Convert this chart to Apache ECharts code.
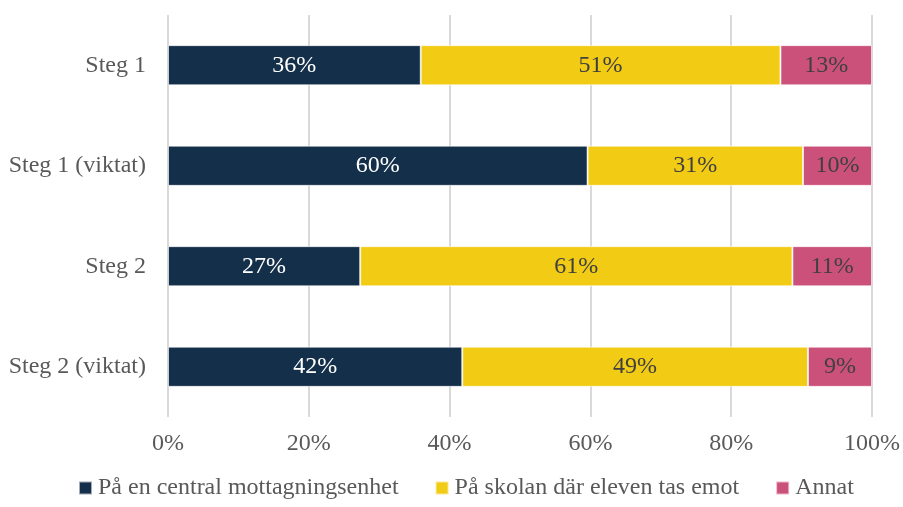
<!DOCTYPE html>
<html>
<head>
<meta charset="utf-8">
<script src="https://cdn.jsdelivr.net/npm/echarts@6/dist/echarts.min.js"></script>
<style>
html,body{margin:0;padding:0;background:#fff;}
#c{width:903px;height:507px;}
</style>
</head>
<body>
<div id="c"></div>
<script>
const categories = ["Steg 1", "Steg 1 (viktat)", "Steg 2", "Steg 2 (viktat)"];
const seriesNames = ["På en central mottagningsenhet", "På skolan där eleven tas emot", "Annat"];
const centralValues = [35.9, 59.6, 27.3, 41.8];
const skolanValues = [51.1, 30.6, 61.4, 49.1];
const annatValues = [13.0, 9.8, 11.3, 9.1];
const tickLabels = ["0%", "20%", "40%", "60%", "80%", "100%"];
const colors = ["#142F4A", "#F2CB14", "#CB517A"];
const labelColors = ["#FFFFFF", "#404040", "#404040"];

const font = "'Liberation Serif', 'Times New Roman', serif";
const chart = echarts.init(document.getElementById('c'));
const valueSets = [centralValues, skolanValues, annatValues];

chart.setOption({
  animation: false,
  textStyle: { fontFamily: font },
  grid: { left: 168, right: 30, top: 15, bottom: 90, containLabel: false },
  legend: {
    bottom: 2,
    left: 73,
    itemWidth: 13,
    itemHeight: 13,
    itemGap: 36,
    icon: 'rect',
    textStyle: { fontFamily: font, fontSize: 24, color: '#595959', padding: [0, 0, 0, 1] },
    data: seriesNames
  },
  xAxis: {
    type: 'value',
    min: 0, max: 100, interval: 20,
    axisLine: { show: false },
    axisTick: { show: false },
    splitLine: { lineStyle: { color: '#D9D9D9', width: 2 } },
    axisLabel: {
      fontFamily: font, fontSize: 24, color: '#595959', margin: 15,
      formatter: v => tickLabels[Math.round(v / 20)]
    }
  },
  yAxis: {
    type: 'category',
    inverse: true,
    data: categories,
    axisLine: { show: false },
    axisTick: { show: false },
    axisLabel: { fontFamily: font, fontSize: 24, color: '#595959', margin: 22 }
  },
  series: seriesNames.map((name, i) => ({
    name,
    type: 'bar',
    stack: 'total',
    barWidth: '40%',
    data: valueSets[i],
    itemStyle: { color: colors[i], borderColor: 'rgba(255,255,255,0.6)', borderWidth: 1 },
    label: {
      show: true,
      position: 'inside',
      fontFamily: font,
      fontSize: 24,
      color: labelColors[i],
      formatter: p => Math.round(p.value) + '%'
    }
  }))
});
</script>
</body>
</html>
